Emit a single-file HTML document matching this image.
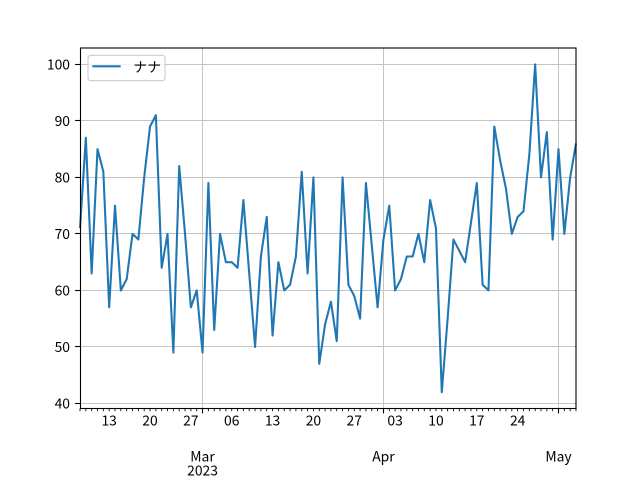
<!DOCTYPE html>
<html><head><meta charset="utf-8"><style>
html,body{margin:0;padding:0;background:#fff;}
svg{display:block;}
text{font-family:"Noto Sans CJK JP","Liberation Sans",sans-serif;font-size:13.9px;fill:#000;}
</style></head><body>
<svg width="640" height="480" viewBox="0 0 640 480" xmlns="http://www.w3.org/2000/svg">
<rect width="640" height="480" fill="#fff"/>
<!-- grid -->
<g stroke="#c4c4c4" stroke-width="1">
<line x1="80" x2="576" y1="403.5" y2="403.5"/>
<line x1="80" x2="576" y1="346.5" y2="346.5"/>
<line x1="80" x2="576" y1="290.5" y2="290.5"/>
<line x1="80" x2="576" y1="233.5" y2="233.5"/>
<line x1="80" x2="576" y1="177.5" y2="177.5"/>
<line x1="80" x2="576" y1="120.5" y2="120.5"/>
<line x1="80" x2="576" y1="64.5" y2="64.5"/>
<line x1="202.5" x2="202.5" y1="48" y2="408.5"/>
<line x1="383.5" x2="383.5" y1="48" y2="408.5"/>
<line x1="558.5" x2="558.5" y1="48" y2="408.5"/>
</g>
<!-- data -->
<polyline fill="none" stroke="#1f77b4" stroke-width="2.08" stroke-linejoin="round" vector-effect="non-scaling-stroke"
transform="matrix(5.8353 0 0 -5.6505 80 629.43)"
points="0,71 1,87 2,63 3,85 4,81 5,57 6,75 7,60 8,62 9,70 10,69 11,80 12,89 13,91 14,64 15,70 16,49 17,82 18,70 19,57 20,60 21,49 22,79 23,53 24,70 25,65 26,65 27,64 28,76 29,63 30,50 31,66 32,73 33,52 34,65 35,60 36,61 37,66 38,81 39,63 40,80 41,47 42,54 43,58 44,51 45,80 46,61 47,59 48,55 49,79 50,68 51,57 52,69 53,75 54,60 55,62 56,66 57,66 58,70 59,65 60,76 61,71 62,42 63,55 64,69 65,67 66,65 67,72 68,79 69,61 70,60 71,89 72,83 73,78 74,70 75,73 76,74 77,84 78,100 79,80 80,88 81,69 82,85 83,70 84,80 85,86"/>
<!-- spines -->
<rect x="80.5" y="48" width="495.5" height="360.5" fill="none" stroke="#000" stroke-width="1.1"/>
<!-- ticks -->
<g stroke="#000" stroke-width="1.1">
<line x1="75.1" x2="80" y1="403.5" y2="403.5"/>
<line x1="75.1" x2="80" y1="346.5" y2="346.5"/>
<line x1="75.1" x2="80" y1="290.5" y2="290.5"/>
<line x1="75.1" x2="80" y1="233.5" y2="233.5"/>
<line x1="75.1" x2="80" y1="177.5" y2="177.5"/>
<line x1="75.1" x2="80" y1="120.5" y2="120.5"/>
<line x1="75.1" x2="80" y1="64.5" y2="64.5"/>
<line x1="202.5" x2="202.5" y1="408.5" y2="413.4"/>
<line x1="383.5" x2="383.5" y1="408.5" y2="413.4"/>
<line x1="558.5" x2="558.5" y1="408.5" y2="413.4"/>
</g>
<!-- minor ticks -->
<path transform="translate(80,408.5) scale(5.8353,1)" stroke="#000" stroke-width="0.85" vector-effect="non-scaling-stroke" fill="none"
d="M0 0V2.8M1 0V2.8M2 0V2.8M3 0V2.8M4 0V2.8M5 0V2.8M6 0V2.8M7 0V2.8M8 0V2.8M9 0V2.8M10 0V2.8M11 0V2.8M12 0V2.8M13 0V2.8M14 0V2.8M15 0V2.8M16 0V2.8M17 0V2.8M18 0V2.8M19 0V2.8M20 0V2.8M22 0V2.8M23 0V2.8M24 0V2.8M25 0V2.8M26 0V2.8M27 0V2.8M28 0V2.8M29 0V2.8M30 0V2.8M31 0V2.8M32 0V2.8M33 0V2.8M34 0V2.8M35 0V2.8M36 0V2.8M37 0V2.8M38 0V2.8M39 0V2.8M40 0V2.8M41 0V2.8M42 0V2.8M43 0V2.8M44 0V2.8M45 0V2.8M46 0V2.8M47 0V2.8M48 0V2.8M49 0V2.8M50 0V2.8M51 0V2.8M53 0V2.8M54 0V2.8M55 0V2.8M56 0V2.8M57 0V2.8M58 0V2.8M59 0V2.8M60 0V2.8M61 0V2.8M62 0V2.8M63 0V2.8M64 0V2.8M65 0V2.8M66 0V2.8M67 0V2.8M68 0V2.8M69 0V2.8M70 0V2.8M71 0V2.8M72 0V2.8M73 0V2.8M74 0V2.8M75 0V2.8M76 0V2.8M77 0V2.8M78 0V2.8M79 0V2.8M80 0V2.8M81 0V2.8M83 0V2.8M84 0V2.8M85 0V2.8"/>
<!-- y labels -->
<g text-anchor="end">
<text x="70" y="408.4">40</text>
<text x="70" y="351.9">50</text>
<text x="70" y="295.4">60</text>
<text x="70" y="238.9">70</text>
<text x="70" y="182.4">80</text>
<text x="70" y="125.9">90</text>
<text x="70" y="69.4">100</text>
</g>
<!-- x labels -->
<g text-anchor="middle">
<text x="109.18" y="425.7">13</text>
<text x="150.02" y="425.7">20</text>
<text x="190.87" y="425.7">27</text>
<text x="231.72" y="425.7">06</text>
<text x="272.56" y="425.7">13</text>
<text x="313.41" y="425.7">20</text>
<text x="354.26" y="425.7">27</text>
<text x="395.11" y="425.7">03</text>
<text x="435.95" y="425.7">10</text>
<text x="476.80" y="425.7">17</text>
<text x="517.65" y="425.7">24</text>
<text x="202.54" y="461.7">Mar</text>
<text x="202.54" y="475.7">2023</text>
<text x="383.44" y="461.7">Apr</text>
<text x="558.49" y="461.7">May</text>
</g>
<!-- legend -->
<rect x="88" y="55.3" width="77" height="25.4" rx="2.8" ry="2.8" fill="#fff" fill-opacity="0.8" stroke="#cccccc" stroke-width="1.1"/>
<line x1="92.3" x2="120.7" y1="66.3" y2="66.3" stroke="#1f77b4" stroke-width="2.08"/>
<text x="133.3" y="72">ナナ</text>
</svg>
</body></html>
